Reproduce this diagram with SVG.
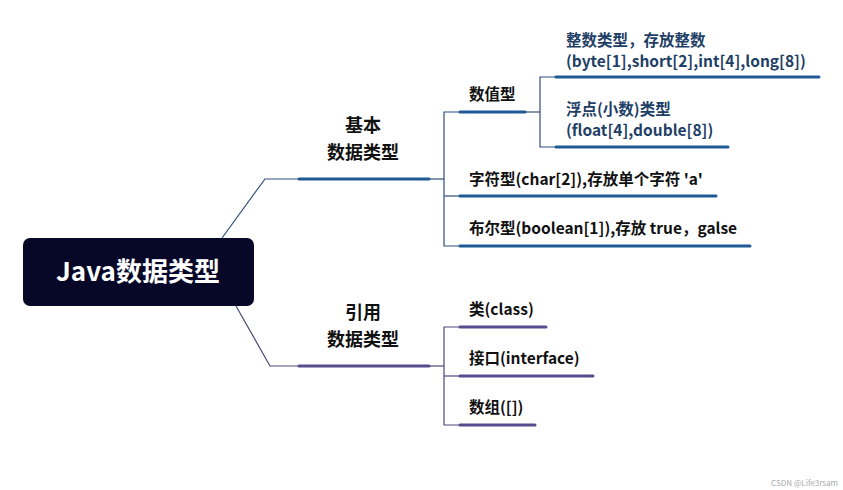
<svg xmlns="http://www.w3.org/2000/svg" width="843" height="490" viewBox="0 0 843 490">
<style>
text{font-family:"Noto Sans CJK SC","Noto Sans",sans-serif;font-weight:bold}
.t{font-size:15.5px;fill:#111}
.b{font-size:15.5px;fill:#1f3f66}
.h{font-size:18px;fill:#111;text-anchor:middle}
.thin{stroke:#2f4f7a;stroke-width:1.2;fill:none}
.thinp{stroke:#4a4a7a;stroke-width:1.2;fill:none}
.bb{stroke:#1f5a96;stroke-width:3;stroke-linecap:round}
.bp{stroke:#554d8e;stroke-width:3;stroke-linecap:round}
</style>
<rect width="843" height="490" fill="#fff"/>
<g id="connectors">
<polyline class="thin" points="222,238 265,179 298,179"/>
<polyline class="thinp" points="236,306 270,366 298,366"/>
<line class="thin" x1="430" y1="179" x2="444" y2="179"/>
<polyline class="thin" points="459,112 444,112 444,246 459,246"/>
<line class="thin" x1="444" y1="196" x2="459" y2="196"/>
<line class="thin" x1="526" y1="112" x2="540" y2="112"/>
<polyline class="thin" points="555,77 540,77 540,147 555,147"/>
<line class="thinp" x1="430" y1="366" x2="444" y2="366"/>
<polyline class="thinp" points="459,327 444,327 444,425 459,425"/>
<line class="thinp" x1="444" y1="376" x2="459" y2="376"/>
</g>
<g id="root"><rect x="23" y="238" width="231" height="68" rx="7" fill="#070828"/>
<text x="138" y="281" font-size="26" fill="#fff" text-anchor="middle">Java数据类型</text></g>
<g id="basic"><line class="bb" x1="299" y1="179" x2="429" y2="179"/>
<text class="h" x="363" y="132">基本</text><text class="h" x="363" y="159">数据类型</text></g>
<g id="ref"><line class="bp" x1="299" y1="366" x2="429" y2="366"/>
<text class="h" x="363" y="319">引用</text><text class="h" x="363" y="346">数据类型</text></g>
<g id="num"><line class="bb" x1="460" y1="112" x2="525" y2="112"/><text class="t" x="469" y="100">数值型</text></g>
<g id="int"><line class="bb" x1="556" y1="77" x2="819" y2="77"/>
<text class="b" x="566" y="46">整数类型，存放整数</text><text class="b" x="566" y="67">(byte[1],short[2],int[4],long[8])</text></g>
<g id="float"><line class="bb" x1="556" y1="147" x2="728" y2="147"/>
<text class="b" x="566" y="115">浮点(小数)类型</text><text class="b" x="566" y="136">(float[4],double[8])</text></g>
<g id="char"><line class="bb" x1="460" y1="196" x2="716" y2="196"/><text class="t" x="469" y="185">字符型(char[2]),存放单个字符 'a'</text></g>
<g id="bool"><line class="bb" x1="460" y1="246" x2="750" y2="246"/><text class="t" x="469" y="234">布尔型(boolean[1]),存放 true，galse</text></g>
<g id="class"><line class="bp" x1="460" y1="327" x2="546" y2="327"/><text class="t" x="469" y="315">类(class)</text></g>
<g id="iface"><line class="bp" x1="460" y1="376" x2="593" y2="376"/><text class="t" x="469" y="364">接口(interface)</text></g>
<g id="arr"><line class="bp" x1="460" y1="425" x2="535" y2="425"/><text class="t" x="469" y="413">数组([])</text></g>
<text x="838" y="486" font-size="8" fill="#aaa" text-anchor="end" style="font-weight:normal">CSDN @Life3rsam</text>
</svg>
